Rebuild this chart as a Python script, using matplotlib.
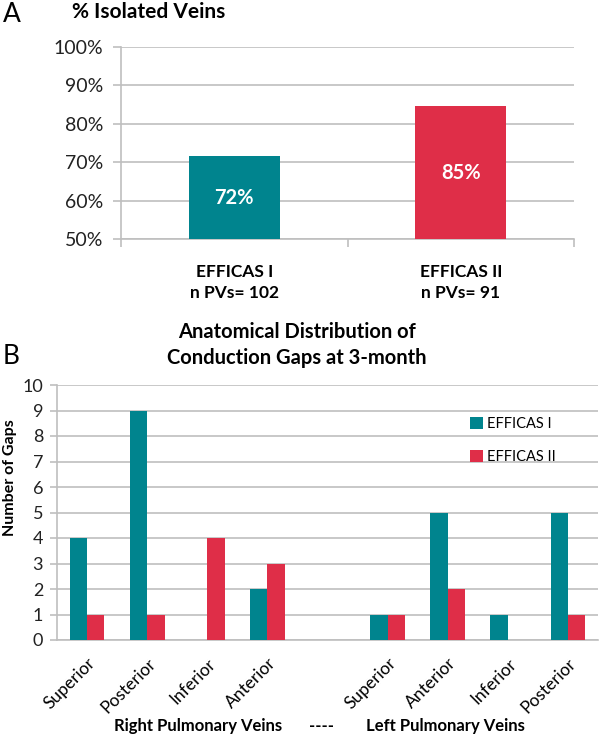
import matplotlib
matplotlib.use("Agg")
import matplotlib.pyplot as plt
from matplotlib.ticker import FixedLocator

plt.rcParams['font.family'] = ['Lato', 'DejaVu Sans']

# panel A
trials = ['EFFICAS I', 'EFFICAS II']
n_pvs = [102, 91]
isolated_pct = [71.6, 84.6]

# panel B
vein_sites = ['Superior', 'Posterior', 'Inferior', 'Anterior', '',
              'Superior', 'Anterior', 'Inferior', 'Posterior']
gaps_efficas1 = [4, 9, 0, 2, 0, 1, 5, 1, 5]
gaps_efficas2 = [1, 1, 4, 3, 0, 1, 2, 0, 1]

TEAL = '#00848E'
RED = '#DF2E48'
GRID = '#BFBFBF'
W, H = 600, 737


def px_box(left, top, right, bottom):
    return [left / W, 1 - bottom / H, (right - left) / W, (bottom - top) / H]


fig = plt.figure(figsize=(6, 7.37), dpi=100)

# ---- A ----
ax1 = fig.add_axes(px_box(121, 47, 574, 239))
x1 = range(len(trials))
bars = ax1.bar(x1, [v - 50 for v in isolated_pct], bottom=50, width=0.4,
               color=[TEAL, RED], zorder=3)
ax1.bar_label(bars, labels=[f'{v:.0f}%' for v in isolated_pct], label_type='center',
              color='white', fontsize=14.5, fontweight='bold')
ax1.set_xlim(-0.5, 1.5)
ax1.set_ylim(50, 100)
ax1.set_yticks(range(50, 101, 10))
ax1.set_yticklabels([f'{t}%' for t in range(50, 101, 10)])
ax1.yaxis.grid(True, color=GRID, linewidth=1.2, zorder=0)
ax1.set_xticks(list(x1))
ax1.set_xticklabels([f'{t}\nn PVs= {n}' for t, n in zip(trials, n_pvs)],
                    fontweight='bold', fontsize=12.5, linespacing=1.4)
ax1.xaxis.set_minor_locator(FixedLocator([-0.5, 0.5, 1.5]))
ax1.tick_params(axis='x', which='major', length=0, pad=18)
ax1.tick_params(axis='x', which='minor', length=6, color=GRID, width=1.2)
ax1.tick_params(axis='y', length=6, color=GRID, width=1.2, labelsize=14, pad=7,
                labelcolor='#222222')
for s in ['top', 'right']:
    ax1.spines[s].set_visible(False)
for s in ['left', 'bottom']:
    ax1.spines[s].set_color(GRID)
    ax1.spines[s].set_linewidth(1.2)

fig.text(72 / W, 1 - 12 / H, '% Isolated Veins', fontsize=15, fontweight='bold',
         ha='left', va='center')
fig.text(3 / W, 1 - 15 / H, 'A', fontsize=19, ha='left', va='center')

# ---- B ----
ax2 = fig.add_axes(px_box(57, 385, 598, 640))
x2 = list(range(len(vein_sites)))
bw = 0.29
ax2.bar([i - bw / 2 for i in x2], gaps_efficas1, width=bw, color=TEAL,
        label='EFFICAS I', zorder=3)
ax2.bar([i + bw / 2 for i in x2], gaps_efficas2, width=bw, color=RED,
        label='EFFICAS II', zorder=3)
ax2.set_xlim(-0.5, len(vein_sites) - 0.5)
ax2.set_ylim(0, 10)
ax2.set_yticks(range(0, 11))
ax2.yaxis.grid(True, color=GRID, linewidth=1.2, zorder=0)
ax2.set_xticks(x2)
ax2.set_xticklabels(vein_sites, rotation=45, ha='right', rotation_mode='anchor',
                    fontsize=12.5)
ax2.tick_params(axis='x', length=0, pad=11)
ax2.tick_params(axis='y', length=5, color=GRID, width=1.2, labelsize=13, pad=5,
                labelcolor='#222222')
for s in ['top', 'right']:
    ax2.spines[s].set_visible(False)
for s in ['left', 'bottom']:
    ax2.spines[s].set_color(GRID)
    ax2.spines[s].set_linewidth(1.2)

ax2.legend(loc='upper left', bbox_to_anchor=(457 / W, 1 - 404 / H),
           bbox_transform=fig.transFigure, frameon=False, fontsize=10.5,
           handlelength=0.85, handleheight=0.8, handletextpad=0.3, labelspacing=1.3)

fig.text(297 / W, 1 - 345 / H, 'Anatomical Distribution of\nConduction Gaps at 3-month',
         fontsize=14.5, fontweight='bold', ha='center', va='center', linespacing=1.4)
fig.text(3 / W, 1 - 356 / H, 'B', fontsize=19, ha='left', va='center')
fig.text(10 / W, 1 - 478 / H, 'Number of Gaps', fontsize=11.5, fontweight='bold',
         rotation=90, ha='center', va='center')

fig.text(198 / W, 1 - 726 / H, 'Right Pulmonary Veins', fontsize=12,
         fontweight='bold', ha='center', va='center')
fig.text(321 / W, 1 - 726 / H, '----', fontsize=12, fontweight='bold',
         ha='center', va='center')
fig.text(445 / W, 1 - 726 / H, 'Left Pulmonary Veins', fontsize=12,
         fontweight='bold', ha='center', va='center')

fig.savefig('out.png', dpi=100)
